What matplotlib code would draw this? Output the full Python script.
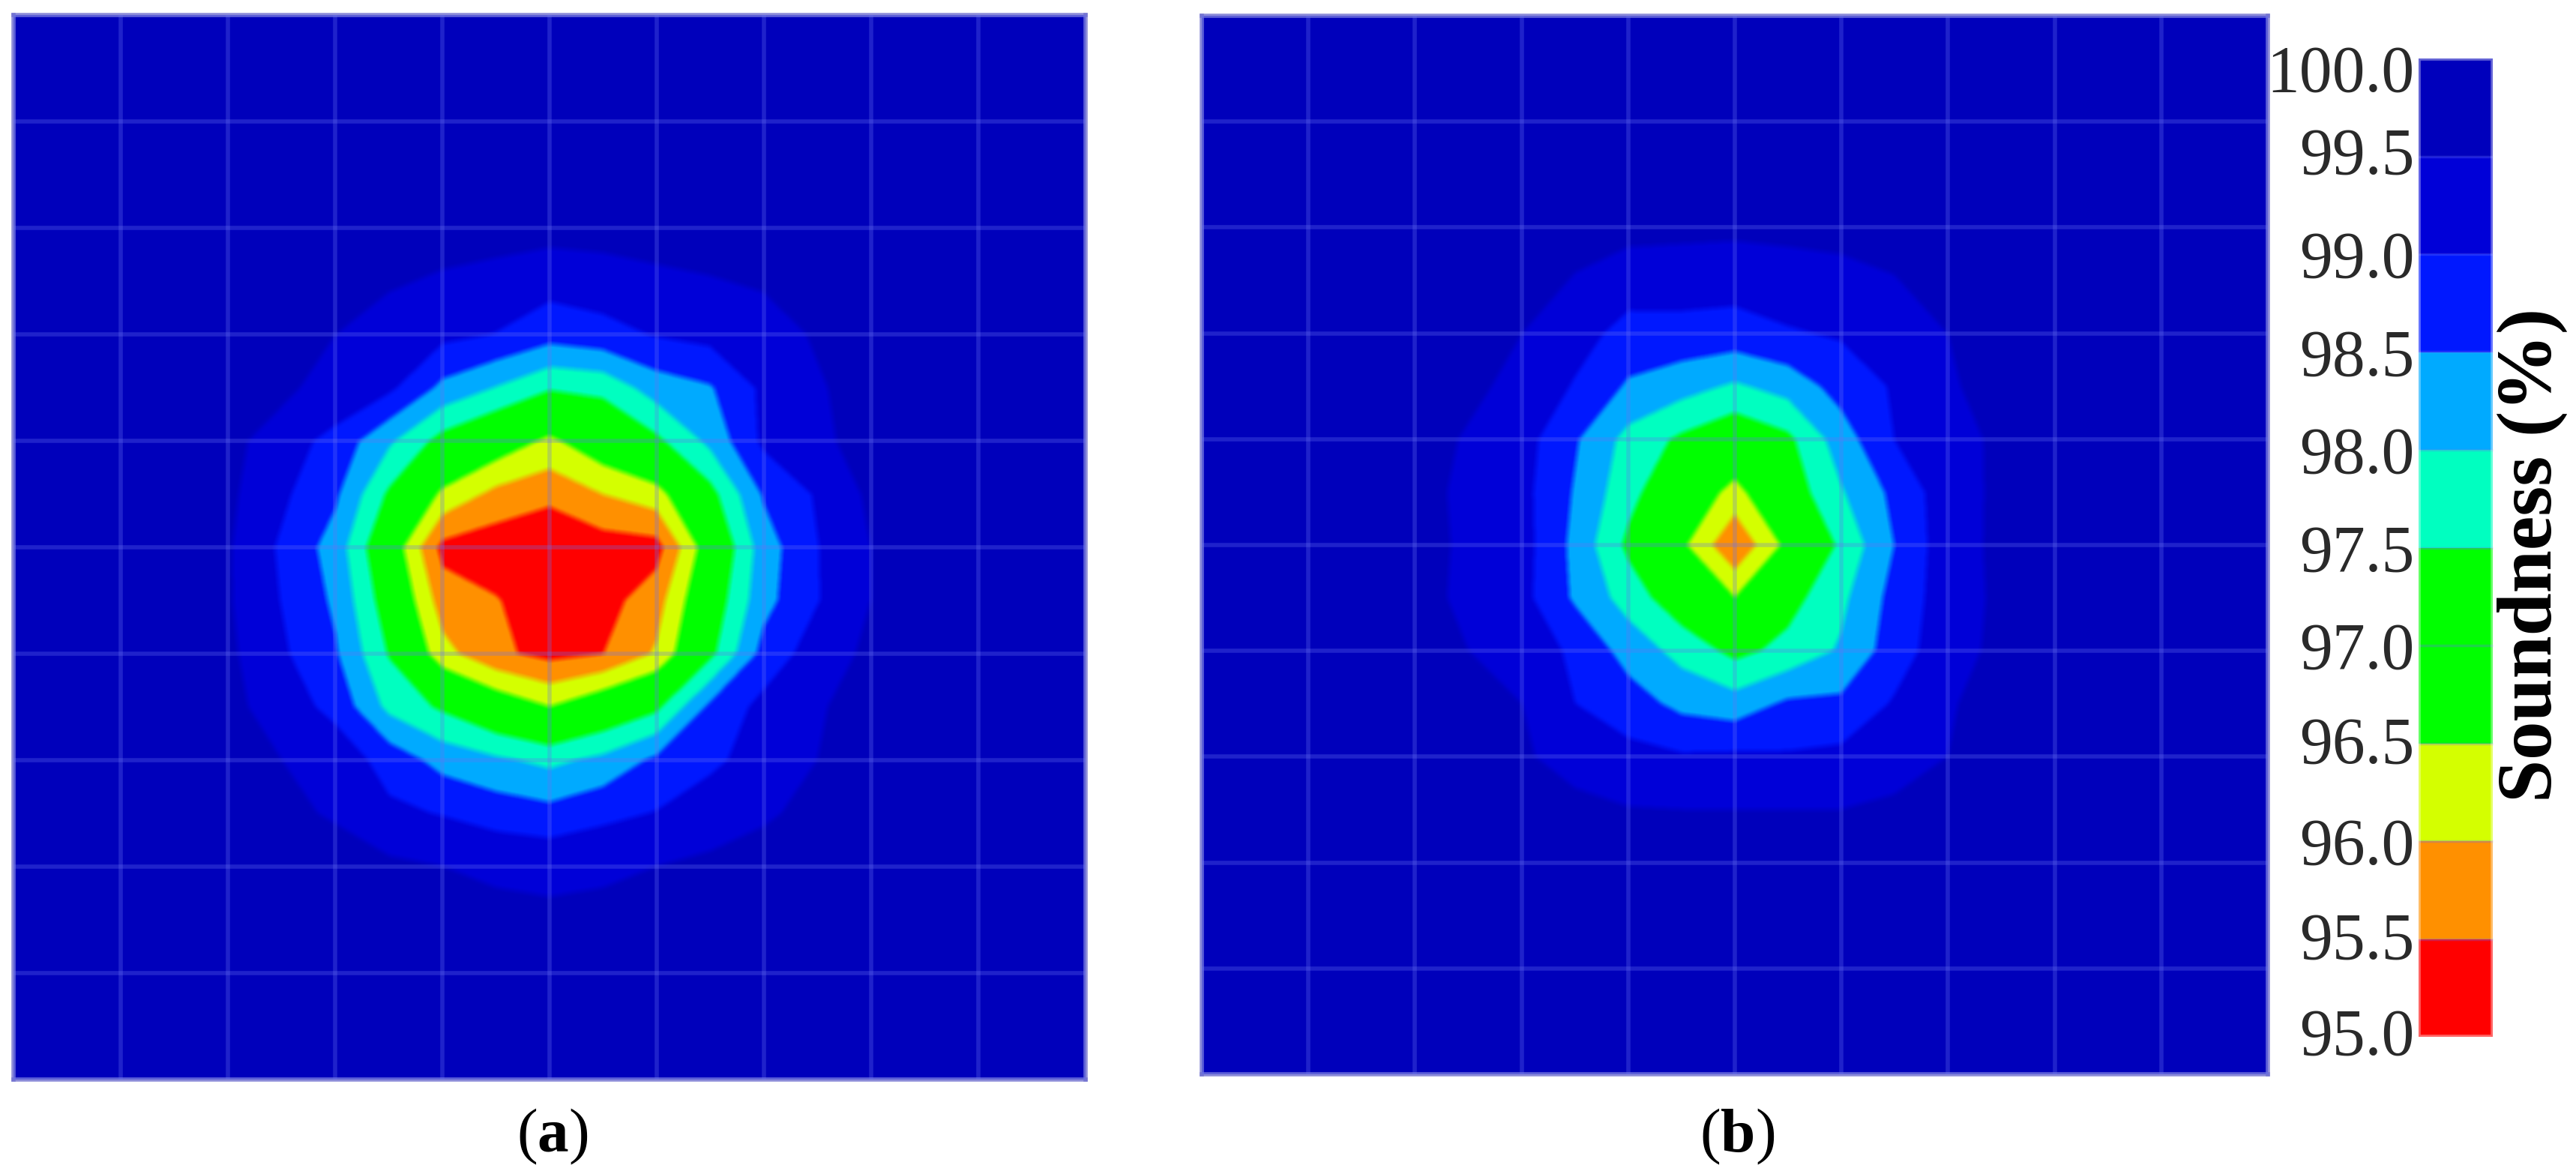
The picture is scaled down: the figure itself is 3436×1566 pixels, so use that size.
import numpy as np
import matplotlib
matplotlib.use('Agg')
import matplotlib.pyplot as plt

plt.rcParams['font.family'] = ['Liberation Serif', 'DejaVu Serif']
plt.rcParams['mathtext.fontset'] = 'custom'
plt.rcParams['mathtext.rm'] = 'Liberation Serif'
plt.rcParams['mathtext.bf'] = 'Liberation Serif:bold'

W, H = 3437, 1566

levels = [95.0, 95.5, 96.0, 96.5, 97.0, 97.5, 98.0, 98.5, 99.0, 99.5, 100.0]
band_colors = ['#ff0000', '#ff9000', '#d4ff00', '#00ff00', '#00ff00',
               '#00ffc0', '#00aaff', '#0018ff', '#0000d8', '#0000bc']
tick_labels = ['95.0', '95.5', '96.0', '96.5', '97.0', '97.5', '98.0', '98.5', '99.0', '99.5', '100.0']
label_pos = [95.03, 95.52, 96.0, 96.52, 97.0, 97.5, 98.0, 98.5, 99.0, 99.53, 99.95]

# measuring grid, finer around the defect
grid_idx = [0, 1, 2, 3, 3.5, 4, 4.5, 5, 5.5, 6, 6.5, 7, 7.5, 8, 9, 10]
background = 99.9

sound_a = [
    [99.90, 99.85, 99.80, 99.74, 99.70, 99.68, 99.70, 99.74, 99.78, 99.80, 99.85, 99.88, 99.90],
    [99.75, 99.50, 99.30, 99.12, 98.98, 98.69, 98.83, 99.03, 99.15, 99.30, 99.55, 99.72, 99.85],
    [99.70, 99.40, 99.10, 98.37, 97.97, 97.55, 97.64, 98.24, 98.45, 99.10, 99.45, 99.70, 99.85],
    [99.65, 98.83, 98.08, 97.30, 96.86, 96.38, 96.90, 97.38, 98.12, 99.10, 99.40, 99.68, 99.85],
    [99.60, 98.58, 97.41, 96.39, 95.85, 95.65, 96.00, 96.29, 97.31, 98.55, 99.05, 99.60, 99.85],
    [99.55, 98.28, 96.92, 95.35, 95.20, 95.00, 95.25, 95.30, 96.86, 98.25, 98.98, 99.50, 99.80],
    [99.55, 98.41, 97.18, 95.75, 95.53, 95.20, 95.30, 95.78, 97.11, 98.33, 98.97, 99.50, 99.80],
    [99.60, 98.55, 97.46, 96.17, 95.60, 95.35, 95.49, 96.06, 97.35, 98.67, 99.25, 99.60, 99.85],
    [99.65, 98.85, 97.86, 97.41, 96.91, 96.50, 96.96, 97.37, 98.60, 99.15, 99.45, 99.70, 99.85],
    [99.70, 99.30, 98.80, 98.31, 98.08, 97.87, 98.12, 98.60, 98.90, 99.20, 99.50, 99.72, 99.85],
    [99.75, 99.45, 99.10, 98.97, 98.78, 98.66, 98.87, 99.02, 99.25, 99.45, 99.60, 99.78, 99.90],
    [99.80, 99.70, 99.60, 99.50, 99.42, 99.38, 99.42, 99.50, 99.60, 99.65, 99.70, 99.80, 99.90],
    [99.90, 99.90, 99.88, 99.85, 99.82, 99.80, 99.82, 99.85, 99.88, 99.90, 99.90, 99.90, 99.90],
]

sound_b = [
    [99.85, 99.80, 99.72, 99.65, 99.62, 99.60, 99.62, 99.65, 99.70, 99.78, 99.85, 99.88, 99.90],
    [99.80, 99.50, 99.20, 98.82, 98.83, 98.79, 98.95, 99.05, 99.25, 99.50, 99.70, 99.85, 99.90],
    [99.75, 99.40, 98.95, 98.43, 98.19, 97.92, 98.19, 98.69, 99.05, 99.45, 99.65, 99.80, 99.90],
    [99.70, 99.20, 98.55, 97.83, 97.40, 97.06, 97.38, 98.25, 99.00, 99.30, 99.60, 99.78, 99.90],
    [99.65, 99.15, 98.45, 97.67, 96.98, 96.31, 97.17, 97.95, 98.62, 99.28, 99.60, 99.75, 99.85],
    [99.65, 99.20, 98.36, 97.38, 96.60, 95.55, 96.65, 97.60, 98.50, 99.30, 99.60, 99.78, 99.85],
    [99.65, 99.15, 98.42, 97.78, 97.13, 96.50, 97.30, 97.88, 98.67, 99.25, 99.60, 99.78, 99.85],
    [99.70, 99.30, 98.90, 98.30, 97.82, 97.35, 97.65, 98.06, 98.75, 99.30, 99.62, 99.80, 99.85],
    [99.80, 99.50, 99.00, 98.72, 98.36, 98.21, 98.58, 98.60, 99.05, 99.45, 99.70, 99.85, 99.90],
    [99.80, 99.55, 99.35, 99.15, 99.05, 99.08, 99.05, 99.12, 99.30, 99.50, 99.72, 99.85, 99.90],
    [99.85, 99.70, 99.60, 99.52, 99.50, 99.50, 99.50, 99.50, 99.58, 99.68, 99.80, 99.88, 99.90],
    [99.90, 99.85, 99.80, 99.75, 99.72, 99.70, 99.72, 99.75, 99.78, 99.82, 99.88, 99.90, 99.90],
    [99.90, 99.90, 99.90, 99.88, 99.85, 99.85, 99.85, 99.88, 99.90, 99.90, 99.90, 99.90, 99.90],
]


def px_rect(left, top, right, bottom):
    return [left / W, 1 - bottom / H, (right - left) / W, (bottom - top) / H]


def box_blur(image, dpi, radius=4):
    # the source picture is a soft upscaled bitmap, edges are not crisp
    kernel = np.ones(2 * radius + 1) / (2 * radius + 1)
    pad = radius * 2
    out = np.pad(image, ((pad, pad), (pad, pad), (0, 0)), mode='edge')
    for axis in (0, 1):
        out = np.apply_along_axis(lambda v: np.convolve(v, kernel, mode='same'), axis, out)
    return out[pad:-pad, pad:-pad], 0, 0


def draw_map(fig, rect, values):
    ax = fig.add_axes(px_rect(*rect))
    z = np.pad(np.array(values), ((2, 1), (2, 1)), constant_values=background)
    cs = ax.contourf(grid_idx, grid_idx, z, levels=levels, colors=band_colors)
    cs.set_agg_filter(box_blur)
    ax.set_xlim(0, 10)
    ax.set_ylim(10, 0)
    ax.set_xticks(range(11))
    ax.set_yticks(range(11))
    ax.tick_params(length=0, labelbottom=False, labelleft=False)
    ax.grid(True, color='#6973f3', alpha=0.3, lw=4)
    ax.set_axisbelow(False)
    for sp in ax.spines.values():
        sp.set_color('#7070d0')
        sp.set_alpha(0.8)
        sp.set_linewidth(4)
    return cs


fig = plt.figure(figsize=(W / 100, H / 100), dpi=100, facecolor='white')

cs_a = draw_map(fig, (18, 20, 1448, 1440), sound_a)
cs_b = draw_map(fig, (1603, 21, 3025, 1433), sound_b)

cax = fig.add_axes(px_rect(3226, 78, 3325, 1383))
cb = fig.colorbar(cs_a, cax=cax, drawedges=True)
cb.dividers.set_color('#6973f3')
cb.dividers.set_alpha(0.3)
cb.dividers.set_linewidth(2.5)
cb.outline.set_edgecolor('white')
cb.outline.set_alpha(0.4)
cb.outline.set_linewidth(4)
cb.set_ticks([])
cax.minorticks_off()
for val, lab in zip(label_pos, tick_labels):
    cax.annotate(lab, xy=(0, val), xycoords=('axes fraction', 'data'), xytext=(-4, 0),
                 textcoords='offset points', ha='right', va='center_baseline',
                 fontsize=63, color='#2a2a2a')

fig.text(3378 / W, 1 - 740 / H, 'Soundness (%)', rotation=90, ha='center', va='center',
         fontsize=74, fontweight='bold', color='black')

fig.text(737 / W, 1 - 1516 / H, r'($\mathbf{a}$)', ha='center', va='center', fontsize=60, color='black')
fig.text(2317 / W, 1 - 1516 / H, r'($\mathbf{b}$)', ha='center', va='center', fontsize=60, color='black')

fig.savefig('out.png', dpi=100, facecolor='white')
